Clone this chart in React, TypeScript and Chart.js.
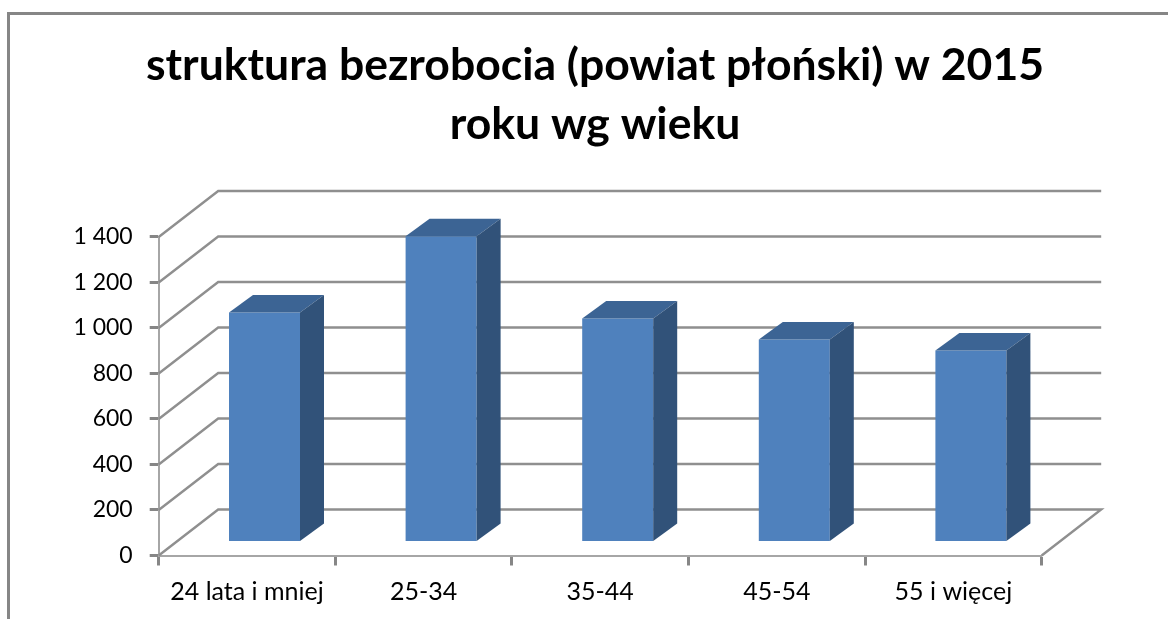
import React, { useEffect, useRef } from "react";
import { Chart, registerables } from "chart.js";

Chart.register(...registerables);

const titleLines = ["struktura bezrobocia (powiat płoński) w 2015", "roku wg wieku"];
const categories = ["24 lata i mniej", "25-34", "35-44", "45-54", "55 i więcej"];
const unemployed = [1007, 1342, 980, 888, 839];
const FONT = "Lato, 'Open Sans', sans-serif";

const WALL_DX = 59.5;
const WALL_DY = 46;
const BAR_SHIFT_X = 17.5;
const BAR_SHIFT_Y = -14;
const BAR_DX = 24;
const BAR_DY = -17.5;

const depthPlugin = {
  id: "depth3d",
  beforeDraw(chart: any) {
    const { ctx, width, height } = chart;
    ctx.save();
    ctx.fillStyle = "#ffffff";
    ctx.fillRect(0, 0, width, height);
    ctx.strokeStyle = "#868686";
    ctx.lineWidth = 3;
    ctx.beginPath();
    ctx.moveTo(8.5, height);
    ctx.lineTo(8.5, 13.5);
    ctx.lineTo(width, 13.5);
    ctx.stroke();
    ctx.restore();
  },
  beforeDatasetsDraw(chart: any) {
    const { ctx, chartArea, scales } = chart;
    const { left, right } = chartArea;
    ctx.save();
    ctx.strokeStyle = "#8f8f8f";
    ctx.lineWidth = 2.4;
    scales.y.ticks.forEach((t: any) => {
      const y = scales.y.getPixelForValue(t.value);
      ctx.beginPath();
      ctx.moveTo(left, y);
      ctx.lineTo(left + WALL_DX, y - WALL_DY);
      ctx.lineTo(right + WALL_DX, y - WALL_DY);
      if (t.value === 0) ctx.lineTo(right, y);
      ctx.stroke();
    });
    ctx.restore();
    ctx.save();
    ctx.translate(BAR_SHIFT_X, BAR_SHIFT_Y);
  },
  afterDatasetsDraw(chart: any) {
    const { ctx } = chart;
    chart.getDatasetMeta(0).data.forEach((el: any) => {
      const { x, y, width, base } = el.getProps(["x", "y", "width", "base"], true);
      const l = x - width / 2;
      const r = x + width / 2;
      ctx.fillStyle = "#3c6494";
      ctx.beginPath();
      ctx.moveTo(l, y);
      ctx.lineTo(l + BAR_DX, y + BAR_DY);
      ctx.lineTo(r + BAR_DX, y + BAR_DY);
      ctx.lineTo(r, y);
      ctx.closePath();
      ctx.fill();
      ctx.fillStyle = "#315279";
      ctx.beginPath();
      ctx.moveTo(r, y);
      ctx.lineTo(r + BAR_DX, y + BAR_DY);
      ctx.lineTo(r + BAR_DX, base + BAR_DY);
      ctx.lineTo(r, base);
      ctx.closePath();
      ctx.fill();
    });
    ctx.restore();
  },
};

export default function App() {
  const ref = useRef<HTMLCanvasElement>(null);
  useEffect(() => {
    if (!ref.current) return;
    const chart = new Chart(ref.current, {
      type: "bar",
      data: {
        labels: categories,
        datasets: [
          {
            data: unemployed,
            backgroundColor: "#4f81bd",
            borderWidth: 0,
            inflateAmount: 0,
            barThickness: 71,
            clip: false,
          } as any,
        ],
      },
      options: {
        responsive: false,
        animation: false,
        layout: { padding: { left: 22, right: 0, top: 0, bottom: 0 } },
        plugins: {
          legend: { display: false },
          tooltip: { enabled: false },
          title: {
            display: true,
            text: titleLines,
            color: "#000000",
            font: { family: FONT, size: 44.5, weight: "bold", lineHeight: 1.33 },
            padding: { top: 36, bottom: 82.6 },
          },
        },
        scales: {
          x: {
            grid: {
              offset: true,
              drawOnChartArea: false,
              tickLength: 10,
              tickColor: "#868686",
              tickWidth: 3,
            },
            border: { color: "#a6a6a6", width: 2 },
            ticks: {
              color: "#000000",
              font: { family: FONT, size: 25 },
              padding: 11,
              maxRotation: 0,
            },
            afterFit: (s: any) => {
              s.height = 63.5;
            },
          },
          y: {
            min: 0,
            max: 1400,
            grid: {
              drawOnChartArea: false,
              tickLength: 9,
              tickColor: "#868686",
              tickWidth: 3,
            },
            border: { color: "#a6a6a6", width: 2 },
            ticks: {
              stepSize: 200,
              color: "#000000",
              font: { family: FONT, size: 23 },
              padding: 17,
              callback: (v: any) => String(v).replace(/\B(?=(\d{3})+$)/g, " "),
            },
            afterFit: (s: any) => {
              s.width = 136.7;
            },
          },
          y2: {
            position: "right",
            grid: { display: false, drawTicks: false },
            border: { display: false },
            ticks: { display: false },
            afterFit: (s: any) => {
              s.width = 126.3;
            },
          },
        },
      } as any,
      plugins: [depthPlugin],
    });
    return () => chart.destroy();
  }, []);
  return (
    <canvas
      ref={ref}
      width={1168}
      height={619}
      style={{ position: "fixed", left: 0, top: 0, display: "block", filter: "blur(0.4px)" }}
    />
  );
}
